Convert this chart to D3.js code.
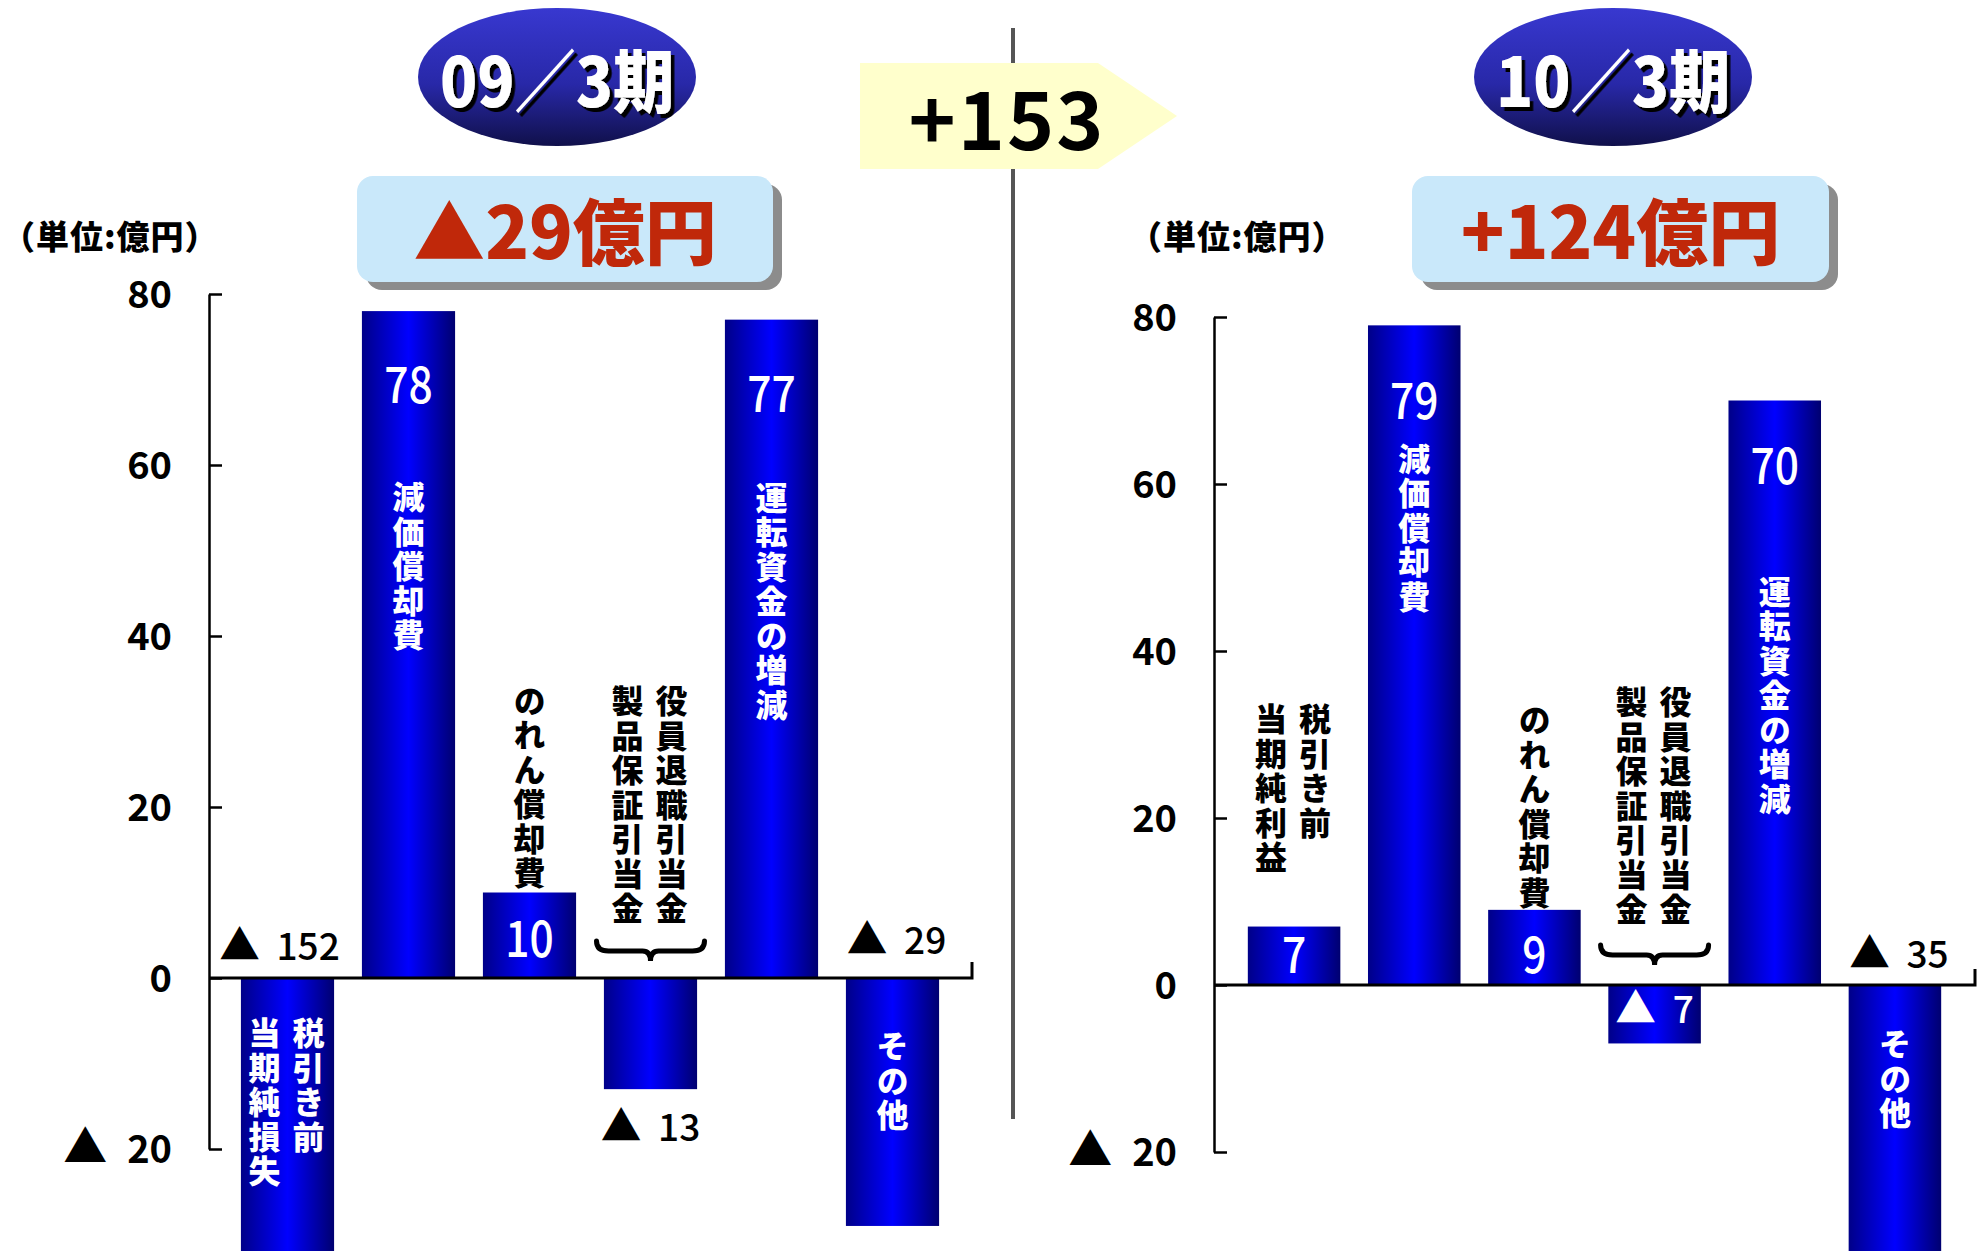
<!DOCTYPE html>
<html><head><meta charset="utf-8">
<script src="https://cdn.jsdelivr.net/npm/d3@7"></script>
<style>
html,body{margin:0;padding:0;background:#fff;}
svg{display:block;}
text{font-family:"Noto Sans CJK JP","Noto Sans",sans-serif;}
</style></head>
<body>
<svg id="chart" width="1979" height="1251"></svg>
<script>
// ---------- data ----------
const periods = ["09／3期", "10／3期"];
const totals = ["▲29億円", "+124億円"];
const diffLabel = "+153";
const unitLabel = "（単位:億円）";
const yTicks = [-20, 0, 20, 40, 60, 80];
const labels09 = [["税引き前", "当期純損失"], ["減価償却費"], ["のれん償却費"], ["役員退職引当金", "製品保証引当金"], ["運転資金の増減"], ["その他"]];
const values09 = [-152, 78, 10, -13, 77, -29];
const labels10 = [["税引き前", "当期純利益"], ["減価償却費"], ["のれん償却費"], ["役員退職引当金", "製品保証引当金"], ["運転資金の増減"], ["その他"]];
const values10 = [7, 79, 9, -7, 70, -35];

// ---------- layout (positions / styles) ----------
const panels = [
  {
    labels: labels09, values: values09, period: periods[0], total: totals[0],
    axisX: 209, yRange: [1149, 294], xRange: [227, 953], zeroEnd: 972,
    ellipse: {cx: 557, cy: 77}, box: {x: 357, y: 176, w: 416, h: 106},
    unitX: 2, braceTop: -37,
    lab: [
      {v: {ref: "zero", dy: -18, dx: -8, c: "#000", k: "out"}, c: {ref: "zero", dy: 39, c: "#fff"}},
      {v: {ref: "end", dy: 92, dx: 0, c: "#fff", k: "in"}, c: {ref: "end", dy: 170, c: "#fff"}},
      {v: {ref: "zero", dy: -21, dx: 0, c: "#fff", k: "in"}, c: {ref: "end", dy: -208, c: "#000"}},
      {v: {ref: "end", dy: 52, dx: 0, c: "#000", k: "out"}, c: {ref: "zero", dy: -293, c: "#000"}, brace: true},
      {v: {ref: "end", dy: 92, dx: 0, c: "#fff", k: "in"}, c: {ref: "end", dy: 162, c: "#fff"}},
      {v: {ref: "zero", dy: -24, dx: 4, c: "#000", k: "out"}, c: {ref: "zero", dy: 52, c: "#fff"}}
    ]
  },
  {
    labels: labels10, values: values10, period: periods[1], total: totals[1],
    axisX: 1214, yRange: [1152, 317], xRange: [1234, 1955], zeroEnd: 1975,
    ellipse: {cx: 1613, cy: 77}, box: {x: 1412, y: 176, w: 417, h: 106},
    unitX: 1129, braceTop: -40,
    lab: [
      {v: {ref: "zero", dy: -12, dx: 0, c: "#fff", k: "in"}, c: {ref: "zero", dy: -282, c: "#000"}},
      {v: {ref: "end", dy: 94, dx: 0, c: "#fff", k: "in"}, c: {ref: "end", dy: 117, c: "#fff"}},
      {v: {ref: "zero", dy: -12, dx: 0, c: "#fff", k: "in"}, c: {ref: "zero", dy: -281, c: "#000"}},
      {v: {ref: "zero", dy: 38, dx: 0, c: "#fff", k: "out"}, c: {ref: "zero", dy: -299, c: "#000"}, brace: true},
      {v: {ref: "end", dy: 83, dx: 0, c: "#fff", k: "in"}, c: {ref: "end", dy: 175, c: "#fff"}},
      {v: {ref: "zero", dy: -17, dx: 4, c: "#000", k: "out"}, c: {ref: "zero", dy: 43, c: "#fff"}}
    ]
  }
];

const svg = d3.select("#chart");
const defs = svg.append("defs");
const barGrad = defs.append("linearGradient").attr("id", "barGrad").attr("x1", 0).attr("x2", 1).attr("y1", 0).attr("y2", 0);
[["0%", "#000088"], ["50%", "#0000FF"], ["100%", "#000070"]].forEach(s => barGrad.append("stop").attr("offset", s[0]).attr("stop-color", s[1]));
const ellGrad = defs.append("linearGradient").attr("id", "ellGrad").attr("x1", 0).attr("x2", 0).attr("y1", 0).attr("y2", 1);
[["0%", "#3838D0"], ["55%", "#2828A8"], ["100%", "#10104A"]].forEach(s => ellGrad.append("stop").attr("offset", s[0]).attr("stop-color", s[1]));
const sh = defs.append("filter").attr("id", "shadow").attr("x", "-10%").attr("y", "-10%").attr("width", "130%").attr("height", "130%");
sh.append("feDropShadow").attr("dx", 4).attr("dy", 4).attr("stdDeviation", 0).attr("flood-color", "#000").attr("flood-opacity", 1);

svg.append("rect").attr("width", 1979).attr("height", 1251).attr("fill", "#fff");

// separator and difference arrow
svg.append("line").attr("x1", 1013).attr("x2", 1013).attr("y1", 28).attr("y2", 1119)
  .attr("stroke", "#555").attr("stroke-width", 4);
svg.append("path").attr("d", "M860,63 L1098,63 L1177,116 L1098,169 L860,169 Z").attr("fill", "#FFFFCC");
svg.append("text").attr("x", 1007).attr("y", 150).attr("text-anchor", "middle")
  .attr("font-size", 80).attr("font-weight", 700).attr("letter-spacing", 2).attr("fill", "#000").text(diffLabel);

function vText(g, str, x, yTop, color) {
  g.append("text").attr("x", x).attr("y", yTop)
    .style("writing-mode", "vertical-rl").style("text-orientation", "upright")
    .attr("letter-spacing", 2.5)
    .attr("font-size", 32).attr("font-weight", 900).attr("fill", color).text(str);
}

function triText(g, v, x, y, size, color, anchor) {
  const t = g.append("text").attr("x", x).attr("y", y).attr("text-anchor", anchor || "middle")
    .attr("font-size", size).attr("font-weight", 500).attr("fill", color);
  if (v < 0) {
    t.append("tspan").attr("font-size", size * 1.1).text("▲");
    t.append("tspan").attr("dx", size * 0.45).text(Math.abs(v));
  } else t.text(v);
  return t;
}

panels.forEach(p => {
  const g = svg.append("g");
  // header ellipse
  g.append("ellipse").attr("cx", p.ellipse.cx).attr("cy", p.ellipse.cy).attr("rx", 139).attr("ry", 69).attr("fill", "url(#ellGrad)");
  g.append("text").attr("transform", `translate(${p.ellipse.cx},107) scale(0.9,1)`)
    .attr("filter", "url(#shadow)")
    .attr("text-anchor", "middle").attr("font-size", 68).attr("font-weight", 900).attr("fill", "#fff").text(p.period);
  // total box
  g.append("rect").attr("x", p.box.x + 9).attr("y", p.box.y + 8).attr("width", p.box.w).attr("height", p.box.h).attr("rx", 16).attr("fill", "#8C8C8C");
  g.append("rect").attr("x", p.box.x).attr("y", p.box.y).attr("width", p.box.w).attr("height", p.box.h).attr("rx", 16).attr("fill", "#C9E8FA");
  g.append("text").attr("x", p.box.x + p.box.w / 2).attr("y", 259).attr("text-anchor", "middle")
    .attr("font-size", 72).attr("font-weight", 900).attr("fill", "#C0280A").text(p.total);
  // unit
  g.append("text").attr("x", p.unitX).attr("y", 235).attr("dominant-baseline", "central")
    .attr("font-size", 33).attr("font-weight", 900).attr("letter-spacing", 1).attr("fill", "#000").text(unitLabel);

  const y = d3.scaleLinear().domain([-20, 80]).range(p.yRange);
  const x = d3.scaleBand().domain(d3.range(p.values.length)).range(p.xRange).paddingInner(0.23).paddingOuter(0.115);

  // bars
  g.selectAll("rect.bar").data(p.values).enter().append("rect").attr("class", "bar")
    .attr("x", (d, i) => x(i)).attr("width", x.bandwidth())
    .attr("y", d => Math.min(y(d), y(0))).attr("height", d => Math.abs(y(d) - y(0)))
    .attr("fill", "url(#barGrad)");

  // axis
  const ax = g.append("g").attr("transform", `translate(${p.axisX},0)`)
    .call(d3.axisLeft(y).tickValues(yTicks).tickSize(-13).tickSizeOuter(0).tickPadding(37)
      .tickFormat(d => d < 0 ? "▲ " + Math.abs(d) : d));
  ax.selectAll("path,line").attr("stroke", "#000").attr("stroke-width", 2.5);
  ax.selectAll("text").attr("font-size", 38).attr("font-weight", 700).attr("fill", "#000")
    .attr("font-family", '"Noto Sans CJK JP",sans-serif').attr("dy", "0.36em");
  ax.selectAll(".tick text").filter(d => d < 0).each(function (d) {
    const t = d3.select(this).text(null);
    t.append("tspan").attr("font-size", 44).text("▲");
    t.append("tspan").attr("dx", 20).text(Math.abs(d));
  });

  // zero line
  const y0 = y(0);
  g.append("path").attr("d", `M${p.axisX},${y0} H${p.zeroEnd} V${y0 - 16}`)
    .attr("fill", "none").attr("stroke", "#000").attr("stroke-width", 3);

  // labels
  p.values.forEach((v, i) => {
    const L = p.lab[i];
    const cx = x(i) + x.bandwidth() / 2;
    const endY = y(v);
    // value
    const vy = (L.v.ref === "zero" ? y0 : endY) + L.v.dy;
    if (L.v.k === "in" && v >= 0) {
      g.append("text").attr("transform", `translate(${cx + L.v.dx},${vy}) scale(0.85,1)`)
        .attr("text-anchor", "middle").attr("font-size", 50).attr("font-weight", 500).attr("fill", L.v.c).text(v);
    } else {
      triText(g, v, cx + L.v.dx, vy, 37, L.v.c);
    }
    // category
    const cy = (L.c.ref === "zero" ? y0 : endY) + L.c.dy;
    const cols = p.labels[i];
    if (cols.length === 1) {
      vText(g, cols[0], cx, cy, L.c.c);
    } else {
      vText(g, cols[0], cx + 21, cy, L.c.c);
      vText(g, cols[1], cx - 23, cy, L.c.c);
    }
    if (L.brace) {
      const t = y0 + p.braceTop, x1 = cx - 54, x2 = cx + 54;
      g.append("path").attr("d",
        `M${x1},${t} Q${x1},${t + 10} ${x1 + 12},${t + 10} L${cx - 8},${t + 10} Q${cx},${t + 10} ${cx},${t + 20} Q${cx},${t + 10} ${cx + 8},${t + 10} L${x2 - 12},${t + 10} Q${x2},${t + 10} ${x2},${t}`)
        .attr("fill", "none").attr("stroke", "#000").attr("stroke-width", 5).attr("stroke-linecap", "round");
    }
  });
});
</script>
</body></html>
